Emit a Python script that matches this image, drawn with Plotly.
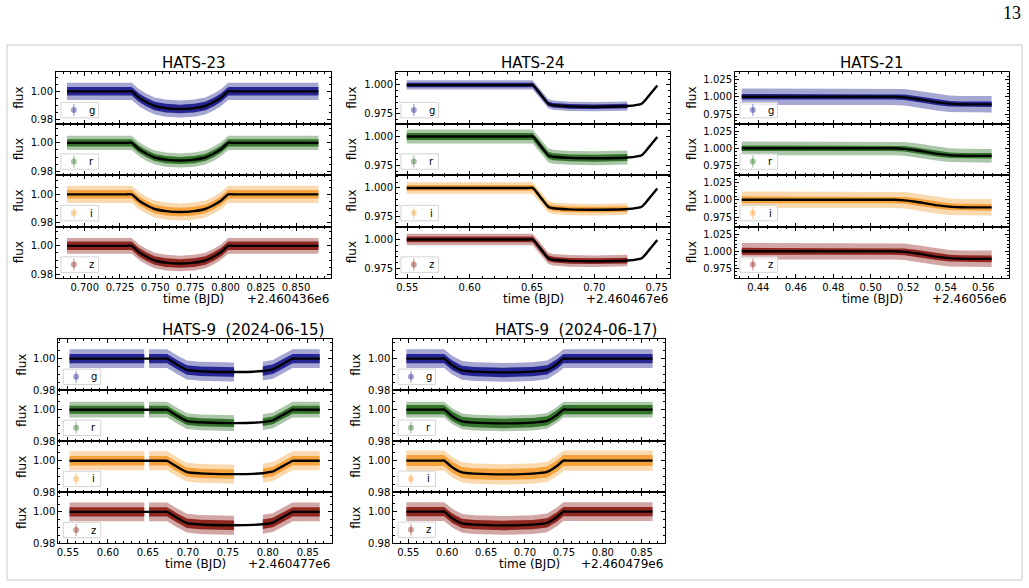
import plotly.graph_objects as go

W, H = 1029, 588
FONT = "DejaVu Sans"
FILTERS = ["g", "r", "i", "z"]
COLORS = {"g": (20, 20, 140), "r": (35, 105, 25), "i": (245, 155, 45), "z": (135, 22, 15)}

# ---------------- data ----------------
# HATS-23
h23_t = [0.6874, 0.7293, 0.7333, 0.7386, 0.7436, 0.7496, 0.7576, 0.7676, 0.7776, 0.7856, 0.7916, 0.7966, 0.8019, 0.8059, 0.8659]
h23_f = [1.000, 1.000, 1.000, 0.9955, 0.9925, 0.9897, 0.9882, 0.9876, 0.9882, 0.9897, 0.9925, 0.9955, 1.000, 1.000, 1.000]
h23_segments = [(0.6874, 0.8659)]
h23_inner = [0.0030, 0.0025, 0.0030, 0.0030]
h23_outer = [0.0060, 0.0050, 0.0060, 0.0055]

# HATS-24
h24_t = [0.5495, 0.6466, 0.6506, 0.6575, 0.6630, 0.6670, 0.6800, 0.7000, 0.7265, 0.7380, 0.7440, 0.7505]
h24_f = [1.000, 1.000, 1.000, 0.9910, 0.9838, 0.9825, 0.9815, 0.9812, 0.9818, 0.9838, 0.9910, 0.9995]
h24_segments = [(0.5495, 0.7265)]
h24_inner = [0.0020, 0.0030, 0.0025, 0.0025]
h24_outer = [0.0040, 0.0060, 0.0050, 0.0050]

# HATS-21
h21_t = [0.4312, 0.5080, 0.5120, 0.5180, 0.5240, 0.5300, 0.5360, 0.5420, 0.5480, 0.5520, 0.5645]
h21_f = [1.000, 1.000, 1.000, 0.9992, 0.9972, 0.9945, 0.9918, 0.9900, 0.9892, 0.9890, 0.9890]
h21_segments = [(0.4312, 0.5645)]
h21_inner = [0.0040, 0.0040, 0.0050, 0.0050]
h21_outer = [0.0120, 0.0100, 0.0120, 0.0120]

# HATS-9 (2024-06-15)
h9a_t = [0.5520, 0.6455, 0.6515, 0.6700, 0.6740, 0.6864, 0.6988, 0.7153, 0.7525, 0.7578, 0.7814, 0.7937, 0.8062, 0.8186, 0.8310, 0.8350, 0.8649]
h9a_f = [1.000, 1.000, 1.000, 1.000, 1.000, 0.9962, 0.9928, 0.9920, 0.9915, 0.9915, 0.9917, 0.9921, 0.9932, 0.9966, 1.000, 1.000, 1.000]
h9a_segments = [(0.5520, 0.6455), (0.6515, 0.7578), (0.7937, 0.8649)]
h9a_inner = [0.0030, 0.0025, 0.0030, 0.0030]
h9a_outer = [0.0060, 0.0050, 0.0060, 0.0060]

# HATS-9 (2024-06-17)
h9b_t = [0.5475, 0.5920, 0.5960, 0.6064, 0.6190, 0.6350, 0.6725, 0.7100, 0.7285, 0.7411, 0.7495, 0.7535, 0.8640]
h9b_f = [1.000, 1.000, 1.000, 0.9958, 0.9925, 0.9917, 0.9912, 0.9917, 0.9928, 0.9966, 1.000, 1.000, 1.000]
h9b_segments = [(0.5475, 0.8640)]
h9b_inner = [0.0030, 0.0030, 0.0035, 0.0030]
h9b_outer = [0.0060, 0.0050, 0.0065, 0.0060]

titles = ["HATS-23", "HATS-24", "HATS-21", "HATS-9\u00a0 (2024-06-15)", "HATS-9\u00a0 (2024-06-17)"]
offsets = ["+2.460436e6", "+2.460467e6", "+2.46056e6", "+2.460477e6", "+2.460479e6"]

# ---------------- layout of the panels (pixels) ----------------
panels = [
    dict(t=h23_t, f=h23_f, seg=h23_segments, inner=h23_inner, outer=h23_outer,
         box=(56, 331, 72, 278), xr=[0.6796, 0.8748], yr=[0.9774, 1.0136],
         xd=0.025, xm=0.005, xf=".3f", yd=0.02, ym=0.005, yf=".2f", fluxdx=37, center=True),
    dict(t=h24_t, f=h24_f, seg=h24_segments, inner=h24_inner, outer=h24_outer,
         box=(396, 670, 72, 278), xr=[0.5409, 0.7607], yr=[0.9667, 1.0112],
         xd=0.05, xm=0.01, xf=".2f", yd=0.025, ym=0.005, yf=".3f", fluxdx=44, center=True),
    dict(t=h21_t, f=h21_f, seg=h21_segments, inner=h21_inner, outer=h21_outer,
         box=(735, 1009.3, 72, 278), xr=[0.4276, 0.5739], yr=[0.9612, 1.036],
         xd=0.02, xm=0.005, xf=".2f", yd=0.025, ym=0.005, yf=".3f", fluxdx=43, center=True),
    dict(t=h9a_t, f=h9a_f, seg=h9a_segments, inner=h9a_inner, outer=h9a_outer,
         box=(58.3, 332.3, 339, 543.3), xr=[0.538, 0.8806], yr=[0.98, 1.0125],
         xd=0.05, xm=0.01, xf=".2f", yd=0.02, ym=0.005, yf=".2f", fluxdx=37, center=False),
    dict(t=h9b_t, f=h9b_f, seg=h9b_segments, inner=h9b_inner, outer=h9b_outer,
         box=(393.3, 665, 339, 543), xr=[0.5307, 0.880], yr=[0.98, 1.0125],
         xd=0.05, xm=0.01, xf=".2f", yd=0.02, ym=0.005, yf=".2f", fluxdx=38, center=False),
]


def rgba(c, a):
    return "rgba(%d,%d,%d,%.3f)" % (c[0], c[1], c[2], a)


fig = go.Figure()
annotations = []
shapes = []

ax_common = dict(showline=True, linecolor="black", linewidth=1, mirror="allticks",
                 ticks="inside", ticklen=4, tickwidth=1, tickcolor="black",
                 showgrid=False, zeroline=False, automargin=False,
                 tickfont=dict(family=FONT, size=10, color="black"))

n = 0
for pi, p in enumerate(panels):
    left, right, top, bottom = p["box"]
    sub_h = (bottom - top) / 4.0
    for k, flt in enumerate(FILTERS):
        n += 1
        xa = "x" if n == 1 else "x%d" % n
        ya = "y" if n == 1 else "y%d" % n
        xkey = "xaxis" if n == 1 else "xaxis%d" % n
        ykey = "yaxis" if n == 1 else "yaxis%d" % n
        s_top = top + k * sub_h
        s_bot = s_top + sub_h
        col = COLORS[flt]

        # data bands (outer light, inner dense)
        for width, alpha in ((p["outer"][k], 0.38), (p["inner"][k], 0.88)):
            for (a, b) in p["seg"]:
                ts = [t for t in p["t"] if a <= t <= b]
                fs = [f for t, f in zip(p["t"], p["f"]) if a <= t <= b]
                up = [f + width for f in fs]
                lo = [f - width for f in fs]
                fig.add_trace(go.Scatter(x=ts + ts[::-1], y=up + lo[::-1], mode="lines",
                                         fill="toself", fillcolor=rgba(col, alpha),
                                         line=dict(width=0), hoverinfo="skip",
                                         showlegend=False, xaxis=xa, yaxis=ya))
        # model
        fig.add_trace(go.Scatter(x=p["t"], y=p["f"], mode="lines",
                                 line=dict(color="black", width=2.4, shape="spline", smoothing=0.6),
                                 showlegend=False, xaxis=xa, yaxis=ya))

        fig.layout[xkey] = dict(ax_common, domain=[left / W, right / W], anchor=ya,
                                range=p["xr"], dtick=p["xd"], tick0=0, tickformat=p["xf"],
                                showticklabels=(k == 3),
                                minor=dict(ticks="inside", ticklen=2, tickcolor="black",
                                           dtick=p["xm"], tick0=0, showgrid=False))
        fig.layout[ykey] = dict(ax_common, domain=[1 - s_bot / H, 1 - s_top / H], anchor=xa,
                                range=p["yr"], dtick=p["yd"], tick0=0, tickformat=p["yf"],
                                minor=dict(ticks="inside", ticklen=2, tickcolor="black",
                                           dtick=p["ym"], tick0=0, showgrid=False))

        # y label
        annotations.append(dict(text="flux", xref="paper", yref="paper",
                                x=(left - p["fluxdx"]) / W, y=1 - (s_top + sub_h / 2) / H,
                                textangle=-90, showarrow=False, xanchor="center", yanchor="middle",
                                font=dict(family=FONT, size=12, color="black")))
        # legend box
        dref_x = xa + " domain"
        dref_y = ya + " domain"
        shapes.append(dict(type="rect", xref=dref_x, yref=dref_y, x0=0.018, x1=0.155,
                           y0=0.11, y1=0.41, line=dict(color="#d4d4d4", width=1),
                           fillcolor="rgba(255,255,255,0.8)", layer="above"))
        shapes.append(dict(type="line", xref=dref_x, yref=dref_y, xsizemode="pixel",
                           ysizemode="pixel", xanchor=0.065, yanchor=0.26,
                           x0=0, x1=0, y0=-6, y1=6,
                           line=dict(color=rgba(col, 0.4), width=1.2), layer="above"))
        shapes.append(dict(type="circle", xref=dref_x, yref=dref_y, xsizemode="pixel",
                           ysizemode="pixel", xanchor=0.065, yanchor=0.26,
                           x0=-3, x1=3, y0=-3, y1=3,
                           fillcolor=rgba(col, 0.4), line=dict(width=0), layer="above"))
        annotations.append(dict(text=flt, xref=dref_x, yref=dref_y, x=0.13, y=0.26,
                                showarrow=False, xanchor="center", yanchor="middle",
                                font=dict(family=FONT, size=10, color="black")))

    # title
    if p["center"]:
        annotations.append(dict(text=titles[pi], xref="paper", yref="paper",
                                x=(left + right) / 2 / W, y=1 - (top - 9.5) / H,
                                showarrow=False, xanchor="center", yanchor="middle",
                                font=dict(family=FONT, size=15, color="black")))
    else:
        annotations.append(dict(text=titles[pi], xref="paper", yref="paper",
                                x=(right - 6) / W, y=1 - (top - 9) / H,
                                showarrow=False, xanchor="right", yanchor="middle",
                                font=dict(family=FONT, size=15, color="black")))
    # x label and offset text
    annotations.append(dict(text="time (BJD)", xref="paper", yref="paper",
                            x=(left + right) / 2 / W, y=1 - (bottom + 21) / H,
                            showarrow=False, xanchor="center", yanchor="middle",
                            font=dict(family=FONT, size=12, color="black")))
    annotations.append(dict(text=offsets[pi], xref="paper", yref="paper",
                            x=right / W, y=1 - (bottom + 21) / H,
                            showarrow=False, xanchor="right", yanchor="middle",
                            font=dict(family=FONT, size=12, color="black")))

# page frame and page number
shapes.append(dict(type="rect", xref="paper", yref="paper", x0=7 / W, x1=1022 / W,
                   y0=1 - 580 / H, y1=1 - 45 / H, line=dict(color="#c8c8c8", width=1),
                   layer="below"))
annotations.append(dict(text="13", xref="paper", yref="paper", x=1012 / W, y=1 - 13 / H,
                        showarrow=False, xanchor="center", yanchor="middle",
                        font=dict(family="Liberation Serif", size=18, color="black")))

fig.update_layout(template="none", width=W, height=H, margin=dict(l=0, r=0, t=0, b=0, pad=0),
                  paper_bgcolor="white", plot_bgcolor="white", showlegend=False,
                  annotations=annotations, shapes=shapes)

fig.write_html("out.html")
